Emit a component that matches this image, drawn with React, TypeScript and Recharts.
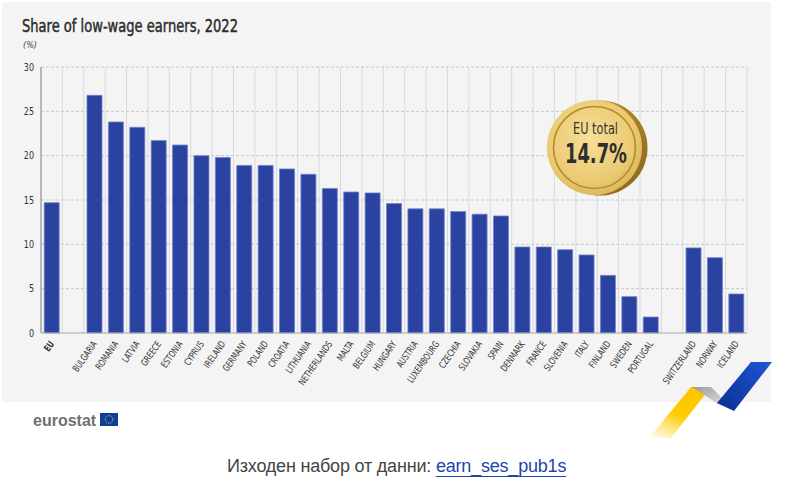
import React from "react";
import { BarChart, Bar, XAxis, YAxis, CartesianGrid } from "recharts";

const categories = [
  "EU", "", "BULGARIA", "ROMANIA", "LATVIA", "GREECE", "ESTONIA", "CYPRUS", "IRELAND",
  "GERMANY", "POLAND", "CROATIA", "LITHUANIA", "NETHERLANDS", "MALTA", "BELGIUM",
  "HUNGARY", "AUSTRIA", "LUXEMBOURG", "CZECHIA", "SLOVAKIA", "SPAIN", "DENMARK",
  "FRANCE", "SLOVENIA", "ITALY", "FINLAND", "SWEDEN", "PORTUGAL", " ",
  "SWITZERLAND", "NORWAY", "ICELAND",
];

const values: (number | null)[] = [
  14.7, null, 26.8, 23.8, 23.2, 21.7, 21.2, 20.0, 19.8,
  18.9, 18.9, 18.5, 17.9, 16.3, 15.9, 15.8,
  14.6, 14.0, 14.0, 13.7, 13.4, 13.2, 9.7,
  9.7, 9.4, 8.8, 6.5, 4.1, 1.8, null,
  9.6, 8.5, 4.4,
];

const yTicks = [0, 5, 10, 15, 20, 25, 30];
const gridValues = [2.5, 5, 7.5, 10, 12.5, 15, 17.5, 20, 22.5, 25, 27.5, 30];

const data = categories.map((name, i) => ({ name, value: values[i] }));

const NARROW = "'Liberation Sans Narrow', 'DejaVu Sans Condensed', 'Liberation Sans', sans-serif";
const SANS = "'Liberation Sans', Arial, sans-serif";

const XTick = (props: any) => {
  const { x, y, payload } = props;
  const label = String(payload.value).trim();
  if (!label) return null;
  const ax = x + 3;
  const ay = y + 11;
  return (
    <text
      x={0}
      y={0}
      transform={`translate(${ax} ${ay}) rotate(-55) scale(0.8 1)`}
      textAnchor="end"
      fontSize={9.5}
      fontFamily={NARROW}
      fontWeight={label === "EU" ? 700 : 400}
      fill="#333"
    >
      {label}
    </text>
  );
};

const YTick = (props: any) => {
  const { x, y, payload } = props;
  return (
    <text
      x={0}
      y={0}
      transform={`translate(${x} ${y + 3.5}) scale(0.85 1)`}
      textAnchor="end"
      fontSize={10.5}
      fontFamily={NARROW}
      fill="#333"
    >
      {payload.value}
    </text>
  );
};

export default function App() {
  const n = categories.length;
  return (
    <div style={{ position: "absolute", left: 0, top: 0, width: 798, height: 501, background: "#fff", overflow: "hidden" }}>
      <div style={{ position: "absolute", left: 2, top: 2, width: 769, height: 400, background: "#f4f4f4" }} />
      <div style={{ position: "absolute", left: 0, top: 0 }}>
        <BarChart
          width={798}
          height={410}
          data={data}
          margin={{ top: 67, right: 51, left: 11, bottom: 0 }}
          barCategoryGap="15%"
        >
          <CartesianGrid
            horizontal={false}
            vertical={true}
            stroke="#dadada"
            verticalCoordinatesGenerator={({ offset }: any) =>
              Array.from({ length: n + 1 }, (_, i) => offset.left + (i * offset.width) / n)
            }
          />
          <CartesianGrid
            horizontal={true}
            vertical={false}
            stroke="#c8c8c8"
            strokeDasharray="3 2"
            horizontalValues={gridValues}
          />
          <XAxis
            dataKey="name"
            interval={0}
            height={77}
            tickSize={0}
            tickMargin={0}
            tickLine={false}
            axisLine={{ stroke: "#a8a8a8", strokeWidth: 1.2 }}
            tick={<XTick />}
          />
          <YAxis
            domain={[0, 30]}
            ticks={yTicks}
            width={30}
            tickSize={0}
            tickMargin={7}
            tickLine={false}
            axisLine={{ stroke: "#a8a8a8", strokeWidth: 1.5 }}
            tick={<YTick />}
          />
          <Bar dataKey="value" fill="#2b43a0" stroke="#7083cf" strokeWidth={0.8} isAnimationActive={false} />
        </BarChart>
      </div>
      <svg width={798} height={501} style={{ position: "absolute", left: 0, top: 0, pointerEvents: "none" }}>
        <defs>
          <radialGradient id="coinFace" cx="45%" cy="40%" r="65%">
            <stop offset="0%" stopColor="#f6df98" />
            <stop offset="70%" stopColor="#ebca72" />
            <stop offset="100%" stopColor="#d8b257" />
          </radialGradient>
          <linearGradient id="coinEdge" x1="0" y1="0" x2="1" y2="1">
            <stop offset="0%" stopColor="#c99b3a" />
            <stop offset="100%" stopColor="#8a6418" />
          </linearGradient>
          <linearGradient id="yel" x1="0" y1="1" x2="0.5" y2="0">
            <stop offset="0%" stopColor="#ffd21e" stopOpacity="0" />
            <stop offset="55%" stopColor="#ffcc00" stopOpacity="1" />
            <stop offset="100%" stopColor="#fcc600" />
          </linearGradient>
          <linearGradient id="gry" x1="0" y1="0" x2="1" y2="1">
            <stop offset="0%" stopColor="#9a9a9a" />
            <stop offset="100%" stopColor="#f2f2f2" />
          </linearGradient>
          <linearGradient id="blu" x1="0" y1="1" x2="1" y2="0">
            <stop offset="0%" stopColor="#0b2f8f" />
            <stop offset="100%" stopColor="#1f55d6" />
          </linearGradient>
        </defs>

        <text x={22} y={32} fontSize={18} fontFamily={NARROW} fill="#2b2b2b" stroke="#2b2b2b" strokeWidth={0.45} textLength={216} lengthAdjust="spacingAndGlyphs">
          Share of low-wage earners, 2022
        </text>
        <text x={23} y={48} fontSize={9} fontStyle="italic" fontFamily={NARROW} fill="#444" textLength={14} lengthAdjust="spacingAndGlyphs">
          (%)
        </text>

        <circle cx={600} cy={148} r={47.5} fill="url(#coinEdge)" />
        <circle cx={594.5} cy={147.5} r={47.5} fill="url(#coinFace)" />
        <circle cx={594.5} cy={147.5} r={41} fill="none" stroke="#b38b2c" strokeWidth={1.6} />
        <text x={573} y={134} fontSize={16.5} fontFamily={NARROW} fill="#333" textLength={45} lengthAdjust="spacingAndGlyphs">
          EU total
        </text>
        <text x={565} y={163} fontSize={27} fontWeight={700} fontFamily={NARROW} fill="#2e2e2e" textLength={62} lengthAdjust="spacingAndGlyphs">
          14.7%
        </text>

        <polygon points="691,387 711,387 671,438 649,438" fill="url(#yel)" />
        <polygon points="692,387 711,387 735,411 718,404" fill="url(#gry)" />
        <polygon points="751,362 772,362 734,411 717,403" fill="url(#blu)" />

        <text x={33} y={426} fontSize={16} fontWeight={700} fontFamily={SANS} fill="#707070">
          eurostat
        </text>
        <rect x={100} y={413} width={18} height={13} fill="#0f3d9e" />
        <circle cx={109} cy={419.5} r={3.8} fill="none" stroke="#f5d300" strokeWidth={1} strokeDasharray="1 1" />
      </svg>
      <div
        style={{
          position: "absolute",
          left: 227,
          top: 457,
          fontFamily: SANS,
          fontSize: 18,
          lineHeight: "18px",
          letterSpacing: "-0.2px",
          color: "#444",
          whiteSpace: "nowrap",
        }}
      >
        Изходен набор от данни:{" "}
        <span style={{ color: "#1d45b0", textDecoration: "underline", textUnderlineOffset: "4px" }}>earn_ses_pub1s</span>
      </div>
    </div>
  );
}
